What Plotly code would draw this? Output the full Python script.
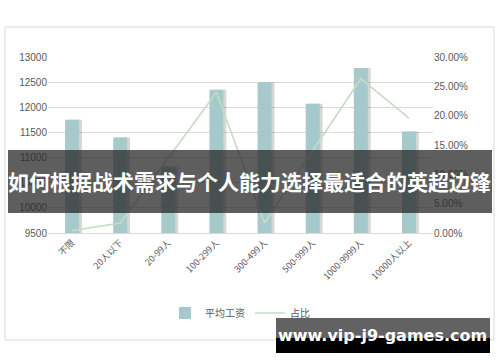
import plotly.graph_objects as go

categories = ["不限", "20人以下", "20-99人", "100-299人", "300-499人", "500-999人", "1000-9999人", "10000人以上"]
avg_salary = [11750, 11400, 10820, 12350, 12500, 12070, 12780, 11520]
share = [0.004, 0.017, 0.128, 0.240, 0.017, 0.140, 0.263, 0.196]

title_text = "如何根据战术需求与个人能力选择最适合的英超边锋"
site_text = "www.vip-j9-games.com"

W, H = 500, 362
L, R, T, B = 48, 67, 57, 129
PW, PH = W - L - R, H - T - B

def px(x):
    return (x - L) / PW

def py(y):
    return (H - B - y) / PH

bar_color = "#a6cacc"
line_color = "#c6dcc4"
font_fam = "Liberation Sans, Arial, sans-serif"
cjk = "Noto Sans CJK SC"

fig = go.Figure()

# shadow of bars
fig.add_trace(go.Bar(
    x=categories, y=avg_salary,
    marker=dict(color="rgba(0,0,0,0.16)", line=dict(width=0)),
    width=0.29, offset=-0.145 + 0.06,
    showlegend=False, hoverinfo="skip",
))
fig.add_trace(go.Bar(
    x=categories, y=avg_salary, name="平均工资",
    marker=dict(color=bar_color, line=dict(width=0)),
    width=0.29, offset=-0.145,
))
fig.add_trace(go.Scatter(
    x=categories, y=share, name="占比", yaxis="y2",
    mode="lines", line=dict(color=line_color, width=1.6),
))

shapes = [
    dict(type="rect", xref="paper", yref="paper",
         x0=px(5), x1=px(494), y0=py(27), y1=py(340),
         line=dict(color="#d9d9d9", width=1), fillcolor="rgba(0,0,0,0)", layer="below"),
    dict(type="rect", xref="paper", yref="paper",
         x0=px(8), x1=px(492), y0=py(150), y1=py(213),
         line=dict(width=0), fillcolor="rgba(40,40,40,0.75)", layer="above"),
    dict(type="rect", xref="paper", yref="paper",
         x0=px(276), x1=px(490), y0=py(318), y1=py(338),
         line=dict(width=0), fillcolor="rgba(70,70,70,0.85)", layer="above"),
    dict(type="rect", xref="paper", yref="paper",
         x0=px(276), x1=px(490), y0=py(338), y1=py(353),
         line=dict(width=0), fillcolor="#000000", layer="above"),
]

annotations = [
    dict(text="<b>" + title_text + "</b>", xref="paper", yref="paper",
         x=px(250), y=py(181), xanchor="center", yanchor="middle",
         showarrow=False, font=dict(family=cjk, size=21, color="white")),
    dict(text="<b>" + site_text + "</b>", xref="paper", yref="paper",
         x=px(382), y=py(335), xanchor="center", yanchor="middle",
         showarrow=False, font=dict(family="DejaVu Sans, sans-serif", size=16, color="white")),
]

fig.update_layout(
    width=W, height=H,
    margin=dict(l=L, r=R, t=T, b=B, autoexpand=False),
    paper_bgcolor="white", plot_bgcolor="white",
    barmode="overlay",
    shapes=shapes, annotations=annotations,
    showlegend=True,
    legend=dict(orientation="h", x=px(240), y=py(313), xanchor="center", yanchor="middle",
                font=dict(family=cjk, size=10, color="#595959"),
                bgcolor="rgba(0,0,0,0)", itemwidth=30, traceorder="normal"),
    xaxis=dict(type="category", range=[-0.5, 7.5], tickangle=-45,
               showgrid=False, showline=True, linecolor="#d9d9d9", linewidth=1,
               ticks="", tickfont=dict(family=cjk, size=9, color="#595959")),
    yaxis=dict(range=[9500, 13000], dtick=500, tick0=9500,
               showgrid=True, gridcolor="#d9d9d9", gridwidth=1, zeroline=False,
               showline=False, ticks="", tickformat="d",
               tickfont=dict(family=font_fam, size=10, color="#595959")),
    yaxis2=dict(range=[0, 0.30], dtick=0.05, tick0=0, overlaying="y", side="right",
                showgrid=False, zeroline=False, showline=False, ticks="",
                tickformat=".2%", tickfont=dict(family=font_fam, size=10, color="#595959")),
)

fig.write_html("out.html")
